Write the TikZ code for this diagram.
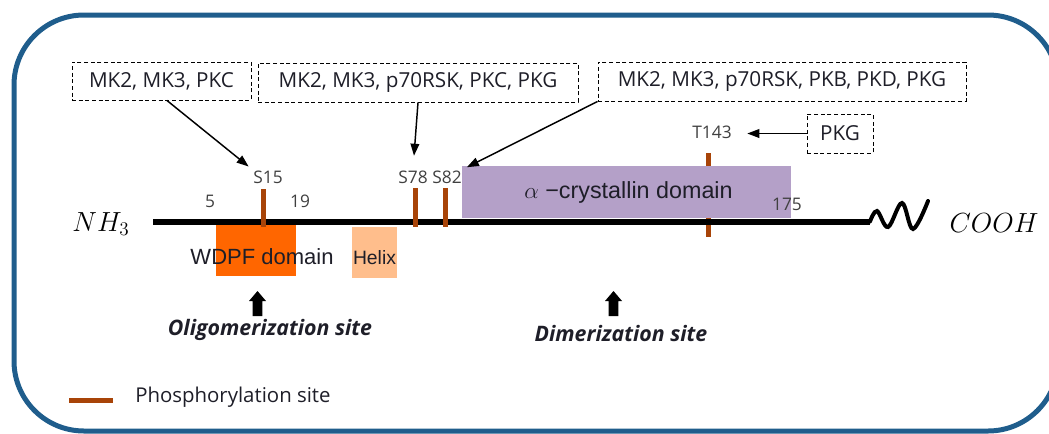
\documentclass[tikz,border=0pt]{standalone}
\usepackage{fontspec}
\setmainfont{Open Sans}
\newfontfamily\arialf{Liberation Sans}
\usetikzlibrary{arrows.meta}
\definecolor{frameblue}{RGB}{31,93,140}
\definecolor{phos}{RGB}{168,68,8}
\definecolor{wdpf}{RGB}{255,102,0}
\definecolor{helixc}{RGB}{255,190,140}
\definecolor{acd}{RGB}{180,160,200}
\definecolor{ink}{RGB}{30,30,40}
\newcommand\fsz[1]{\fontsize{#1pt}{#1pt}\selectfont}
% upward block arrow: tip at the given point
\newcommand\bigup[1]{\fill (#1) ++(-4.8,25) -- ++(0,-15) -- ++(-3.7,0) -- ++(8.5,-10) -- ++(8.5,10) -- ++(-3.7,0) -- ++(0,15) -- cycle;}
\begin{document}
\begin{tikzpicture}[x=0.75pt,y=-0.75pt,
  kinase/.style={draw, dash pattern=on 3pt off 2pt, line width=0.75pt, inner sep=0pt, font=\fsz{15.5}, text=ink},
  site/.style={font=\fsz{13}, text=black!75, inner sep=1pt},
  pmark/.style={phos, line width=3.75pt},
  link/.style={-{Triangle[length=9pt,width=6.5pt]}, line width=1.1pt},
  dombox/.style={inner sep=0pt},
  dlabel/.style={font=\arialf\fsz{16.5}, text=ink, inner sep=0pt},
  region/.style={font=\bfseries\itshape\fsz{16}, text=ink, inner sep=0pt},
  term/.style={font=\fsz{21}, inner sep=0pt}]
\useasboundingbox (0,0) rectangle (1049,433);
% frame: rounded outline whose right side runs past the page edge
\begin{scope}
  \clip (0,0) rectangle (1049,433);
  \draw[frameblue, line width=3.75pt]
    (1058,85) .. controls (1058,46.3) and (1026.7,15) .. (988,15) -- (84,15)
    .. controls (45.3,15) and (14,46.3) .. (14,85) -- (14,361)
    .. controls (14,399.7) and (45.3,431) .. (84,431) -- (988,431)
    .. controls (1026.7,431) and (1058,399.7) .. (1058,361);
\end{scope}

% kinase boxes
\node[kinase, minimum width=134.25pt, minimum height=28.5pt] (k1) at (161.5,81) {MK2, MK3, PKC};
\node[kinase, minimum width=240pt, minimum height=29.25pt] (k2) at (418,82.5) {MK2, MK3, p70RSK, PKC, PKG};
\node[kinase, minimum width=276pt, minimum height=29.25pt] (k3) at (782,81.5) {MK2, MK3, p70RSK, PKB, PKD, PKG};
\node[kinase, minimum width=49.5pt, minimum height=29.25pt] (k4) at (840,133.5) {PKG};

% T143 mark sits behind the alpha-crystallin domain
\draw[pmark] (708,153) -- (708,237);

% alpha-crystallin domain (behind the chain)
\node[dombox, fill=acd, minimum width=246.75pt, minimum height=39pt] (acd) at (626.5,192) {};
\node[dlabel, font=\arialf\fsz{17.5}] (acdtext) at (628.5,192) {$\alpha$ −crystallin domain};

% protein chain
\coordinate (nt) at (153,221.5);
\coordinate (ct) at (870,221.5);
\draw[line width=4.5pt] (nt) -- (ct);
\draw[line width=3pt, line cap=round] plot[smooth, tension=0.6] coordinates
  {(ct) (877,211) (888,227) (902,203) (913,229) (928,201)};
\node[term] (nh3) at (101,224) {$NH_3$};
\node[term] (cooh) at (994,223) {$COOH$};

% N-terminal domains
\node[dombox, fill=wdpf, minimum width=60pt, minimum height=38.25pt] (wdpf) at (256,250.5) {};
\node[dlabel] (wdpftext) at (262,257) {WDPF domain};
\node[dombox, fill=helixc, minimum width=33.75pt, minimum height=38.25pt] (helix) at (374.5,252.5) {};
\node[dlabel, font=\arialf\fsz{14.5}] (helixtext) at (374.5,258) {Helix};

% phosphorylation sites
\draw[pmark] (263,189) -- (263,227);
\draw[pmark] (415,188) -- (415,227);
\draw[pmark] (445,188) -- (445,227);

% residue labels
\node[site] (s15) at (268,177) {S15};
\node[site] (s78) at (413,177) {S78};
\node[site] (s82) at (447,177) {S82};
\node[site] (t143) at (712,132) {T143};
\node[site] (n5) at (210,201) {5};
\node[site] (n19) at (300,201) {19};
\node[site] (n175) at (787,204) {175};

% kinase -> site
\draw[link, shorten >=3pt] ([xshift=4.1pt]k1.south) -- (s15.north west);
\draw[link, shorten >=10pt] (k2.south) -- (s78.north);
\draw[link, shorten >=3pt] (k3.south west) -- (s82.north east);
\draw[link, shorten >=10.5pt] (k4.west) -- (k4.west -| t143.east);

% oligomerization / dimerization
\bigup{257.5,291}
\bigup{613.5,291}
\node[region] (olig) at (270,330) {Oligomerization site};
\node[region] (dimer) at (621,333) {Dimerization site};

% legend
\draw[pmark] (69,400) -- (113,400);
\node[anchor=west, font=\fsz{15.3}, text=ink, inner sep=0pt] (legend) at (135,397) {Phosphorylation site};
\end{tikzpicture}
\end{document}
